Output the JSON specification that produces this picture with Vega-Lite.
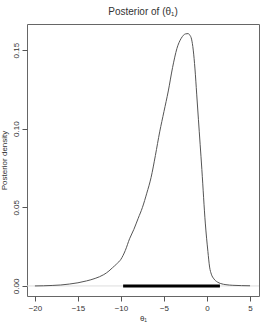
{
  "$schema": "https://vega.github.io/schema/vega-lite/v6.json",
  "autosize": "none",
  "width": 232,
  "height": 272,
  "padding": {"left": 27, "top": 24, "right": 14, "bottom": 31},
  "background": "white",
  "config": {
    "font": "Liberation Sans",
    "view": {"stroke": "#666666", "strokeWidth": 1},
    "axis": {"grid": false, "domain": false, "tickColor": "#555555", "labelColor": "#333333", "titleColor": "#333333", "labelFont": "Liberation Sans", "titleFont": "Liberation Sans", "labelFontSize": 8, "titleFontSize": 8, "titleFontWeight": "normal", "tickSize": 5}
  },
  "title": {"text": "Posterior of (θ₁)", "fontSize": 10, "fontWeight": "normal", "color": "#333333", "font": "Liberation Sans", "offset": 7, "anchor": "middle"},
  "datasets": {
    "dens": [
      {"theta": -20, "density": 0.0},
      {"theta": -19, "density": 0.0001},
      {"theta": -18, "density": 0.0003},
      {"theta": -17, "density": 0.0006},
      {"theta": -16, "density": 0.0012},
      {"theta": -15, "density": 0.002},
      {"theta": -14, "density": 0.0032},
      {"theta": -13, "density": 0.0048},
      {"theta": -12, "density": 0.0072},
      {"theta": -11.4, "density": 0.0095},
      {"theta": -11, "density": 0.0115},
      {"theta": -10.5, "density": 0.014},
      {"theta": -10, "density": 0.017},
      {"theta": -9.5, "density": 0.0225},
      {"theta": -9, "density": 0.03},
      {"theta": -8.5, "density": 0.036},
      {"theta": -8, "density": 0.043},
      {"theta": -7.5, "density": 0.05},
      {"theta": -7, "density": 0.059},
      {"theta": -6.5, "density": 0.069},
      {"theta": -6, "density": 0.083},
      {"theta": -5.5, "density": 0.098},
      {"theta": -5, "density": 0.111},
      {"theta": -4.5, "density": 0.124},
      {"theta": -4, "density": 0.139},
      {"theta": -3.5, "density": 0.151},
      {"theta": -3, "density": 0.1575},
      {"theta": -2.5, "density": 0.1603},
      {"theta": -2.2, "density": 0.1605},
      {"theta": -2.0, "density": 0.1595},
      {"theta": -1.8, "density": 0.157},
      {"theta": -1.6, "density": 0.15},
      {"theta": -1.4, "density": 0.138},
      {"theta": -1.2, "density": 0.122},
      {"theta": -1.0, "density": 0.106},
      {"theta": -0.6, "density": 0.074},
      {"theta": -0.2, "density": 0.04},
      {"theta": 0.1, "density": 0.022},
      {"theta": 0.3, "density": 0.012},
      {"theta": 0.5, "density": 0.0075},
      {"theta": 0.8, "density": 0.0045},
      {"theta": 1.2, "density": 0.0025},
      {"theta": 1.6, "density": 0.0015},
      {"theta": 2.2, "density": 0.0008},
      {"theta": 3, "density": 0.0004},
      {"theta": 4, "density": 0.0002},
      {"theta": 5, "density": 0.0001}
    ],
    "ci": [{"lo": -9.75, "hi": 1.5, "y": 0}]
  },
  "layer": [
    {
      "data": {"values": [{"y": 0}]},
      "mark": {"type": "rule", "color": "#dddddd", "strokeWidth": 1},
      "encoding": {"y": {"field": "y", "type": "quantitative"}}
    },
    {
      "data": {"name": "dens"},
      "mark": {"type": "line", "color": "#555555", "strokeWidth": 1, "interpolate": "monotone"},
      "encoding": {
        "x": {"field": "theta", "type": "quantitative", "scale": {"domain": [-20.92, 6.04], "nice": false, "zero": false}, "axis": {"values": [-20, -15, -10, -5, 0, 5], "title": "θ₁", "labelPadding": 3, "titlePadding": 2}},
        "y": {"field": "density", "type": "quantitative", "scale": {"domain": [-0.0064, 0.1666], "nice": false, "zero": false}, "axis": {"values": [0, 0.05, 0.1, 0.15], "format": ".2f", "title": "Posterior density", "labelAngle": -90, "labelAlign": "center", "labelBaseline": "bottom", "labelPadding": 2, "titlePadding": 4}}
      }
    },
    {
      "data": {"name": "ci"},
      "mark": {"type": "rule", "color": "black", "strokeWidth": 3},
      "encoding": {
        "x": {"field": "lo", "type": "quantitative"},
        "x2": {"field": "hi"},
        "y": {"field": "y", "type": "quantitative"}
      }
    }
  ]
}
